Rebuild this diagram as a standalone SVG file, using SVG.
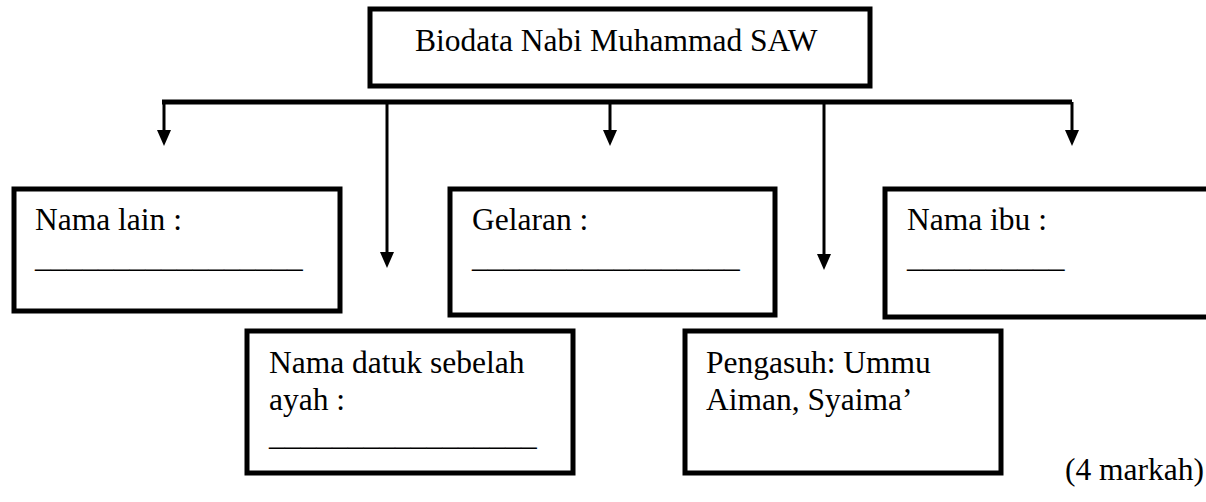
<svg xmlns="http://www.w3.org/2000/svg" width="1206" height="502" viewBox="0 0 1206 502">
<style>
.box{fill:#fff;stroke:#000;stroke-width:5}
.t{font-family:"Liberation Serif","Times New Roman",serif;font-size:31.5px;fill:#000}
.ln{stroke:#000;stroke-width:3;fill:none}
.bar{stroke:#000;stroke-width:5;fill:none}
</style>
<defs>
<marker id="ah" markerWidth="14" markerHeight="16" refX="7" refY="16" orient="auto-start-reverse" markerUnits="userSpaceOnUse" viewBox="0 0 14 16">
<path d="M0,0 L14,0 L7,16 Z" fill="#000"/>
</marker>
</defs>
<rect width="1206" height="502" fill="#fff"/>
<g id="connectors">
<line class="bar" x1="162" y1="102" x2="1072" y2="102"/>
<path d="M164,102 V130" class="ln"/><path d="M157,130 L171,130 L164,146 Z"/>
<path d="M387,102 V252" class="ln"/><path d="M380,252 L394,252 L387,268 Z"/>
<path d="M610,102 V130" class="ln"/><path d="M603,130 L617,130 L610,146 Z"/>
<path d="M824,102 V254" class="ln"/><path d="M817,254 L831,254 L824,270 Z"/>
<path d="M1072,102 V130" class="ln"/><path d="M1065,130 L1079,130 L1072,146 Z"/>
</g>
<g id="root">
<rect class="box" x="370" y="9" width="500" height="77"/>
<text class="t" x="415" y="51">Biodata Nabi Muhammad SAW</text>
</g>
<g id="nama-lain">
<rect class="box" x="14" y="189" width="326" height="122"/>
<text class="t" x="35" y="230">Nama lain :</text>
<text class="t" x="35" y="267">_________________</text>
</g>
<g id="gelaran">
<rect class="box" x="450" y="189" width="325" height="126"/>
<text class="t" x="472" y="230">Gelaran :</text>
<text class="t" x="472" y="267">_________________</text>
</g>
<g id="nama-ibu">
<rect class="box" x="885" y="189" width="340" height="128"/>
<text class="t" x="907" y="230">Nama ibu :</text>
<text class="t" x="907" y="267">__________</text>
</g>
<g id="nama-datuk">
<rect class="box" x="247" y="331" width="326" height="142"/>
<text class="t" x="269" y="373">Nama datuk sebelah</text>
<text class="t" x="269" y="410">ayah :</text>
<text class="t" x="269" y="445">_________________</text>
</g>
<g id="pengasuh">
<rect class="box" x="685" y="331" width="316" height="142"/>
<text class="t" x="706" y="373">Pengasuh: Ummu</text>
<text class="t" x="706" y="410">Aiman, Syaima’</text>
</g>
<text class="t" x="1204" y="480" text-anchor="end">(4 markah)</text>
</svg>
